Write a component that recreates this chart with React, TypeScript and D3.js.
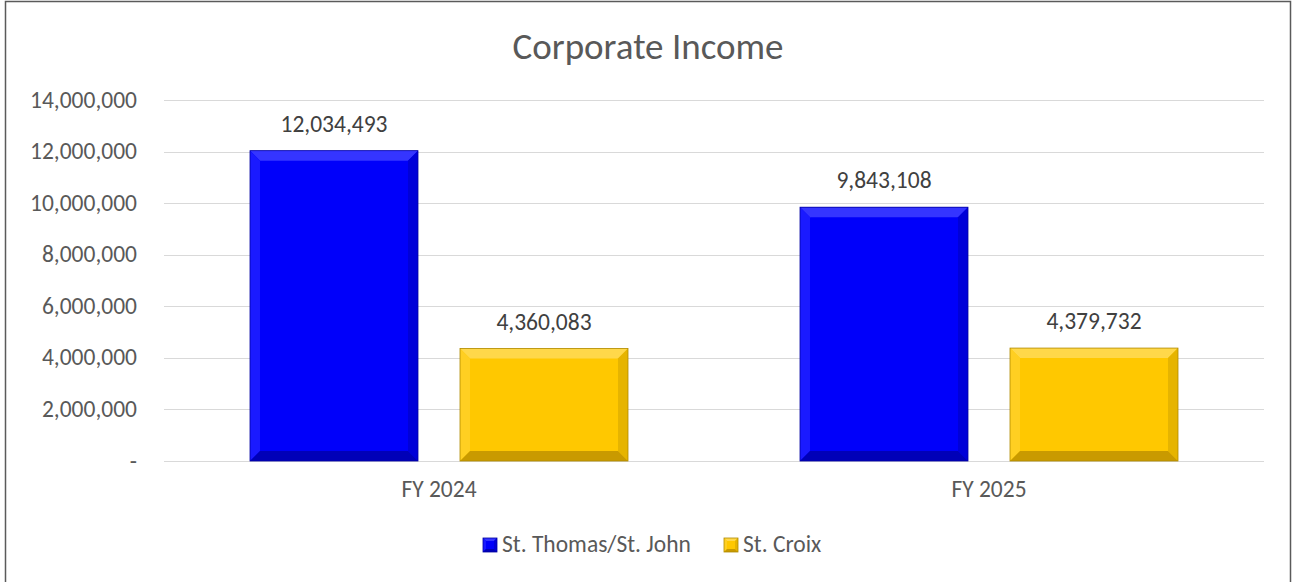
import React from "react";
import * as d3 from "d3";

const categories = ["FY 2024", "FY 2025"];
const seriesNames = ["St. Thomas/St. John", "St. Croix"];
const stThomasValues = [12034493, 9843108];
const stCroixValues = [4360083, 4379732];
const yTicks = [0, 2000000, 4000000, 6000000, 8000000, 10000000, 12000000, 14000000];

const W = 1294;
const H = 582;
const FONT = "Carlito, Calibri, 'Open Sans', 'Liberation Sans', sans-serif";

const colors = [
  { base: "#0000fa", light: "#3535ff", side: "#1a1aff", dark: "#0000d8", darker: "#0000b8", edge: "#0000a0" },
  { base: "#ffc800", light: "#ffd84a", side: "#ffcf22", dark: "#e6b400", darker: "#c99a00", edge: "#b08a00" },
];

function Bevel({ x, y, w, h, c, b0 = 10 }: { x: number; y: number; w: number; h: number; c: typeof colors[0]; b0?: number }) {
  const b = Math.min(b0, h / 2, w / 2);
  return (
    <g>
      <rect x={x} y={y} width={w} height={h} fill={c.base} />
      <polygon points={`${x},${y} ${x + w},${y} ${x + w - b},${y + b} ${x + b},${y + b}`} fill={c.light} />
      <polygon points={`${x},${y} ${x + b},${y + b} ${x + b},${y + h - b} ${x},${y + h}`} fill={c.side} />
      <polygon points={`${x + w},${y} ${x + w},${y + h} ${x + w - b},${y + h - b} ${x + w - b},${y + b}`} fill={c.dark} />
      <polygon points={`${x},${y + h} ${x + w},${y + h} ${x + w - b},${y + h - b} ${x + b},${y + h - b}`} fill={c.darker} />
      <rect x={x} y={y} width={w} height={h} fill="none" stroke={c.edge} strokeWidth={0.8} />
    </g>
  );
}

export default function App() {
  const left = 164;
  const right = 1264;
  const top = 100;
  const bottom = 461;
  const y = d3.scaleLinear().domain([0, 14000000]).range([bottom, top]);
  const x0 = d3.scaleBand().domain(categories).range([left, right]).paddingInner(0).paddingOuter(0);
  const bw = 168;
  const gap = 42;
  const fmt = d3.format(",");
  const series = [stThomasValues, stCroixValues];

  return (
    <svg width={W} height={H} style={{ position: "absolute", left: 0, top: 0 }} fontFamily={FONT}>
      <rect x={0} y={0} width={W} height={H} fill="#fff" />
      <rect x={5.5} y={1.5} width={1285} height={H + 10} fill="none" stroke="#5a5a5a" strokeWidth={1.5} />
      <text x={648} y={59} textAnchor="middle" fontSize={37} fill="#595959">Corporate Income</text>
      {yTicks.map((t) => (
        <g key={t}>
          <line x1={left} x2={right} y1={Math.round(y(t)) + 0.5} y2={Math.round(y(t)) + 0.5} stroke="#d9d9d9" strokeWidth={1} />
          <text x={137} y={y(t) + 7.5} textAnchor="end" fontSize={23.5} fill="#595959">{t === 0 ? "-" : fmt(t)}</text>
        </g>
      ))}
      {categories.map((cat, i) => {
        const cx = x0(cat)! + x0.bandwidth() / 2;
        const groupW = bw * 2 + gap;
        const sx = cx - groupW / 2;
        return (
          <g key={cat}>
            {series.map((vals, s) => {
              const bx = sx + s * (bw + gap);
              const by = y(vals[i]);
              return (
                <g key={s}>
                  <Bevel x={bx} y={by} w={bw} h={bottom - by} c={colors[s]} />
                  <text x={bx + bw / 2} y={by - 19} textAnchor="middle" fontSize={23.5} fill="#404040">{fmt(vals[i])}</text>
                </g>
              );
            })}
            <text x={cx} y={497} textAnchor="middle" fontSize={23.5} fill="#595959">{cat}</text>
          </g>
        );
      })}
      {seriesNames.map((n, s) => {
        const lx = s === 0 ? 483 : 724;
        return (
          <g key={n}>
            <Bevel x={lx} y={538} w={14} h={14} c={colors[s]} b0={3} />
            <text x={lx + 19} y={552} fontSize={23.5} fill="#595959">{n}</text>
          </g>
        );
      })}
    </svg>
  );
}
